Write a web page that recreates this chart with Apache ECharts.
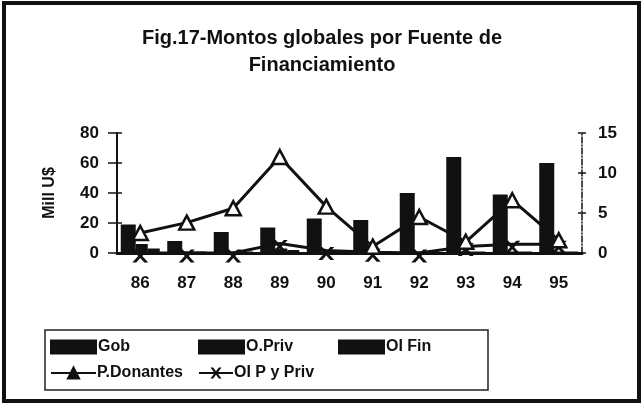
<!DOCTYPE html>
<html>
<head>
<meta charset="utf-8">
<script src="https://cdn.jsdelivr.net/npm/echarts@6/dist/echarts.min.js"></script>
<style>
	html, body { margin: 0; padding: 0; background: #fff; }
	#chart { width: 644px; height: 412px; }
</style>
</head>
<body>
<div id="chart"></div>
<script>
	// valores
	const years = ['86', '87', '88', '89', '90', '91', '92', '93', '94', '95']
	const gob = [19, 8, 14, 17, 23, 22, 40, 64, 39, 60]
	const oPriv = [6, 1, 1, 3, 1, 1, 1, 1, 1, 1]
	const oiFin = [3, 1, 1, 2, 1, 1, 1, 1, 1, 1]
	const pDonantes = [2.5, 3.8, 5.6, 12, 5.8, 0.8, 4.5, 1.4, 6.6, 1.6]
	const oiPyPriv = [0, 0, 0, 1.2, 0.3, 0.1, 0, 0.8, 1.1, 1.1]

	const font = 'Liberation Sans, Arial, sans-serif'
	const crossPath = 'path://M0,0 L3,0 L6,3.5 L9,0 L12,0 L7.5,5 L12,10 L9,10 L6,6.5 L3,10 L0,10 L4.5,5 Z'

	let mychart = echarts.init(document.getElementById('chart'))
	mychart.setOption({
		animation: false,
		backgroundColor: '#fff',
		title: {
			text: 'Fig.17-Montos globales por Fuente de\nFinanciamiento',
			left: 'center',
			top: 20,
			textStyle: {
				color: '#111',
				fontFamily: font,
				fontWeight: 'bold',
				fontSize: 20,
				lineHeight: 27
			}
		},
		legend: [
			{ data: ['Gob'], left: 50, top: 339, icon: 'rect' },
			{ data: ['O.Priv'], left: 198, top: 339, icon: 'rect' },
			{ data: ['OI Fin'], left: 338, top: 339, icon: 'rect' },
			{ data: ['P.Donantes'], left: 50, top: 365, itemWidth: 45, itemHeight: 14, itemStyle: { color: '#111' } },
			{ data: ['OI P y Priv'], left: 198, top: 365, itemWidth: 34, itemHeight: 14 }
		].map(l => Object.assign({
			itemWidth: 47,
			itemHeight: 15,
			itemGap: 2,
			padding: 0,
			textStyle: { color: '#111', fontFamily: font, fontWeight: 'bold', fontSize: 16, padding: [0, 0, 0, -4] }
		}, l)),
		graphic: [
			{
				type: 'rect',
				shape: { x: 4, y: 3, width: 635, height: 398 },
				style: { fill: null, stroke: '#111', lineWidth: 4 }
			},
			{
				type: 'rect',
				shape: { x: 45, y: 330, width: 443, height: 60 },
				style: { fill: null, stroke: '#222', lineWidth: 1.5 }
			}
		],
		grid: {
			left: 117,
			right: 62,
			top: 133,
			bottom: 159
		},
		xAxis: [{
			type: 'category',
			data: years,
			axisLine: { lineStyle: { color: '#111', width: 3 } },
			axisTick: { length: 7, lineStyle: { color: '#111', width: 1.5 } },
			axisLabel: {
				color: '#111',
				fontFamily: font,
				fontWeight: 'bold',
				fontSize: 17,
				margin: 22
			}
		}, {
			type: 'category',
			data: years,
			position: 'bottom',
			axisLine: { show: false },
			axisTick: { inside: true, length: 5, lineStyle: { color: '#111', width: 1.5 } },
			axisLabel: { show: false }
		}],
		yAxis: [{
			type: 'value',
			min: 0,
			max: 80,
			interval: 20,
			name: 'Mill U$',
			nameLocation: 'middle',
			nameGap: 59,
			nameRotate: 90,
			nameTextStyle: { color: '#111', fontFamily: font, fontWeight: 'bold', fontSize: 16 },
			splitLine: { show: false },
			axisLine: { show: true, lineStyle: { color: '#111', width: 2 } },
			axisTick: { show: true, length: 9, lineStyle: { color: '#111', width: 1.5 } },
			axisLabel: { color: '#111', fontFamily: font, fontWeight: 'bold', fontSize: 17, margin: 18 }
		}, {
			type: 'value',
			min: 0,
			max: 15,
			interval: 5,
			position: 'right',
			splitLine: { show: false },
			axisLine: { show: true, lineStyle: { color: '#111', width: 1.5, type: [6, 2, 1, 2] } },
			axisTick: { show: true, length: 4, lineStyle: { color: '#111', width: 1.5 } },
			axisLabel: { color: '#111', fontFamily: font, fontWeight: 'bold', fontSize: 17, margin: 16 }
		}, {
			type: 'value',
			min: 0,
			max: 80,
			interval: 20,
			position: 'left',
			splitLine: { show: false },
			axisLine: { show: false },
			axisTick: { show: true, inside: true, length: 5, lineStyle: { color: '#111', width: 1.5 } },
			axisLabel: { show: false }
		}, {
			type: 'value',
			min: 0,
			max: 15,
			interval: 5,
			position: 'right',
			splitLine: { show: false },
			axisLine: { show: false },
			axisTick: { show: true, inside: true, length: 4, lineStyle: { color: '#111', width: 1.5 } },
			axisLabel: { show: false }
		}],
		series: [{
			name: 'Gob',
			type: 'bar',
			barWidth: 15,
			barGap: '0%',
			itemStyle: { color: '#111' },
			data: gob
		}, {
			name: 'O.Priv',
			type: 'bar',
			barWidth: 12,
			barGap: '0%',
			itemStyle: { color: '#111' },
			data: oPriv
		}, {
			name: 'OI Fin',
			type: 'bar',
			barWidth: 12,
			barGap: '0%',
			itemStyle: { color: '#111' },
			data: oiFin
		}, {
			name: 'P.Donantes',
			type: 'line',
			yAxisIndex: 1,
			symbol: 'triangle',
			symbolSize: [15, 14],
			z: 5,
			lineStyle: { color: '#111', width: 3 },
			itemStyle: { color: '#fff', borderColor: '#111', borderWidth: 2.5 },
			data: pDonantes
		}, {
			name: 'OI P y Priv',
			type: 'line',
			yAxisIndex: 1,
			symbol: crossPath,
			symbolSize: [16, 13],
			symbolOffset: [0, 3],
			z: 4,
			lineStyle: { color: '#111', width: 3 },
			itemStyle: { color: '#111', borderWidth: 0 },
			data: oiPyPriv
		}]
	})
</script>
</body>
</html>
